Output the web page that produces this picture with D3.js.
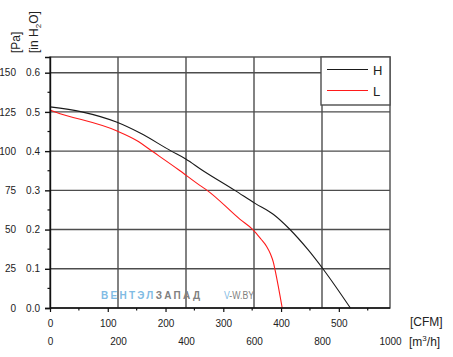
<!DOCTYPE html>
<html><head><meta charset="utf-8">
<script src="https://cdn.jsdelivr.net/npm/d3@7/dist/d3.min.js"></script>
<style>
body{margin:0;background:#fff;}
text{font-family:Arial,"Liberation Sans",sans-serif;fill:#222;}
</style>
</head><body>
<svg id="chart" width="453" height="357"></svg>
<script>
// ---- data ----
const cfmH = [0, 55, 115, 156, 210, 235, 263, 320, 355, 387, 415, 447, 473, 520];
const paH  = [128.2, 125, 118.5, 111.5, 100, 95, 88, 75, 66.7, 59.6, 50.2, 37, 24.7, 0];
const cfmL = [0, 9, 115, 150, 179, 222, 260, 272, 329, 352, 365, 375, 381.7, 386.6, 390.4, 402];
const paL  = [126.2, 125, 113, 106.8, 99.4, 88.3, 78, 75, 56.5, 49.7, 44, 39.2, 34.4, 29.3, 22.9, 0];
const seriesNames  = ["H", "L"];
const seriesColors = ["#1a1a1a", "#ff1a1a"];
const cfmTicks = [0, 100, 200, 300, 400, 500];
const cfmMinor = [50, 150, 250, 350, 450, 550];
const m3hTicks = [0, 200, 400, 600, 800, 1000];
const paTicks  = [0, 25, 50, 75, 100, 125, 150];
const paMinor  = [12.5, 37.5, 62.5, 87.5, 112.5, 137.5];
const inTickLabels = ["0.0", "0.1", "0.2", "0.3", "0.4", "0.5", "0.6"];
const CFM_TO_M3H = 1.699;

// ---- layout ----
const L = 50, R = 390, T = 57, B = 308;
const svg = d3.select("#chart");

const xM = d3.scaleLinear().domain([0, 1000]).range([L, R]);
const xC = d3.scaleLinear().domain([0, 1000 / CFM_TO_M3H]).range([L, R]);
const y  = d3.scaleLinear().domain([0, 160]).range([B, T]);

// gridlines
const grid = svg.append("g").attr("stroke", "#4d4d4d").attr("stroke-width", 1.4);
grid.selectAll("line.h").data(paTicks.slice(1)).join("line")
  .attr("x1", L).attr("x2", R).attr("y1", d => y(d)).attr("y2", d => y(d));
grid.selectAll("line.v").data(m3hTicks.slice(1, -1)).join("line")
  .attr("x1", d => xM(d)).attr("x2", d => xM(d)).attr("y1", T).attr("y2", B);

// frame (top / right)
svg.append("rect").attr("x", L).attr("y", T).attr("width", R - L).attr("height", B - T)
  .attr("fill", "none").attr("stroke", "#4d4d4d").attr("stroke-width", 1.4);

// watermark
const wm = svg.append("text").attr("x", 101).attr("y", 298.5)
  .attr("font-size", 10).attr("font-weight", "bold")
  .attr("textLength", 99).attr("lengthAdjust", "spacing");
wm.append("tspan").text("ВЕНТЭЛ").style("fill", "#7fbbe4");
wm.append("tspan").text("ЗАПАД").style("fill", "#808080");
const wm2 = svg.append("text").attr("x", 224).attr("y", 298.5)
  .attr("font-size", 10).attr("textLength", 30).attr("lengthAdjust", "spacingAndGlyphs");
wm2.append("tspan").text("V").style("fill", "#7fbbe4");
wm2.append("tspan").text("-W.BY").style("fill", "#808080");

// curves
const line = d3.line().x(d => xC(d[0])).y(d => y(d[1])).curve(d3.curveMonotoneX);
const series = [d3.zip(cfmH, paH), d3.zip(cfmL, paL)];
svg.append("g").selectAll("path").data(series).join("path")
  .attr("d", line).attr("fill", "none")
  .attr("stroke", (d, i) => seriesColors[i]).attr("stroke-width", 1.1);

// left axis (Pa)
const yAxis = svg.append("g").attr("transform", `translate(${L},0)`)
  .call(d3.axisLeft(y).tickValues(paTicks).tickSize(5).tickPadding(29).tickFormat(d3.format("d")));
yAxis.select(".domain").attr("stroke", "#111").attr("stroke-width", 1.4);
yAxis.selectAll(".tick line").attr("stroke", "#111").attr("stroke-width", 1.4);
yAxis.selectAll("text").attr("font-size", 10).style("font-family", "Arial, 'Liberation Sans', sans-serif").attr("fill", "#222");
// inch labels
const yIn = svg.append("g").attr("transform", `translate(${L},0)`)
  .call(d3.axisLeft(y).tickValues(paTicks).tickSize(0).tickPadding(10)
    .tickFormat((d, i) => inTickLabels[i]));
yIn.select(".domain").remove();
yIn.selectAll("text").attr("font-size", 10).style("font-family", "Arial, 'Liberation Sans', sans-serif").attr("fill", "#222");
// minor left ticks
svg.append("g").selectAll("line").data(paMinor).join("line")
  .attr("x1", L - 2.5).attr("x2", L).attr("y1", d => y(d)).attr("y2", d => y(d))
  .attr("stroke", "#111").attr("stroke-width", 1.2);

// bottom axis (CFM)
const xAxis = svg.append("g").attr("transform", `translate(0,${B})`)
  .call(d3.axisBottom(xC).tickValues(cfmTicks).tickSize(4).tickPadding(8).tickFormat(d3.format("d")));
xAxis.select(".domain").remove();
xAxis.selectAll(".tick line").attr("stroke", "#111").attr("stroke-width", 1.2);
xAxis.selectAll("text").attr("font-size", 10).style("font-family", "Arial, 'Liberation Sans', sans-serif").attr("fill", "#222");
svg.append("line").attr("x1", L).attr("x2", R).attr("y1", B).attr("y2", B)
  .attr("stroke", "#111").attr("stroke-width", 1.6);
svg.append("g").selectAll("line").data(cfmMinor.filter(d => xC(d) < R)).join("line")
  .attr("x1", d => xC(d)).attr("x2", d => xC(d)).attr("y1", B).attr("y2", B + 2.5)
  .attr("stroke", "#111").attr("stroke-width", 1.2);

// bottom axis (m3/h)
const xAxis2 = svg.append("g").attr("transform", `translate(0,${B})`)
  .call(d3.axisBottom(xM).tickValues(m3hTicks).tickSize(0).tickPadding(30).tickFormat(d3.format("d")));
xAxis2.select(".domain").remove();
xAxis2.selectAll("text").attr("font-size", 10).style("font-family", "Arial, 'Liberation Sans', sans-serif").attr("fill", "#222");

// axis titles
svg.append("text").attr("x", 410).attr("y", 326).attr("font-size", 12).text("[CFM]");
const m3 = svg.append("text").attr("x", 409).attr("y", 346).attr("font-size", 12);
m3.append("tspan").text("[m");
m3.append("tspan").attr("font-size", 8).attr("dy", -5).text("3");
m3.append("tspan").attr("dy", 5).text("/h]");

svg.append("text").attr("transform", "translate(20,53) rotate(-90)").attr("font-size", 12).text("[Pa]");
const inT = svg.append("text").attr("transform", "translate(38,53) rotate(-90)").attr("font-size", 12);
inT.append("tspan").text("[in H");
inT.append("tspan").attr("font-size", 8).attr("dy", 3).text("2");
inT.append("tspan").attr("dy", -3).text("O]");

// legend
const lg = svg.append("g");
lg.append("rect").attr("x", 321).attr("y", T).attr("width", R - 321).attr("height", 48)
  .attr("fill", "#fff").attr("stroke", "#4d4d4d").attr("stroke-width", 1.4);
const items = lg.selectAll("g.item").data(seriesNames).join("g")
  .attr("transform", (d, i) => `translate(0,${69.5 + i * 21})`);
items.append("line").attr("x1", 327).attr("x2", 368).attr("y1", 0).attr("y2", 0)
  .attr("stroke", (d, i) => seriesColors[i]).attr("stroke-width", 1.1);
items.append("text").attr("x", 373).attr("y", 5).attr("font-size", 13).text(d => d);
</script>
</body></html>
